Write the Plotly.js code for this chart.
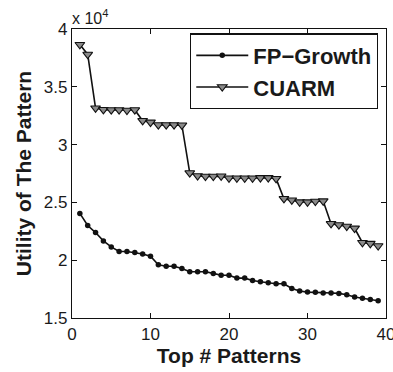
<!DOCTYPE html>
<html>
<head>
<meta charset="utf-8">
<script src="https://cdn.plot.ly/plotly-3.0.1.min.js"></script>
<style>html,body{margin:0;padding:0;background:#fff;}#chart{width:393px;height:372px;}</style>
</head>
<body>
<div id="chart"></div>
<script>
// Top # patterns (x) and utility values (in units of 10^4)
var topPatterns = [];
for (var i = 1; i <= 39; i++) topPatterns.push(i);

var fpGrowth = [2.405, 2.30, 2.239, 2.167, 2.115, 2.075, 2.075, 2.066, 2.054, 2.034,
                1.96, 1.948, 1.948, 1.928, 1.90, 1.90, 1.90, 1.886, 1.87, 1.87,
                1.845, 1.845, 1.825, 1.813, 1.805, 1.796, 1.796, 1.756, 1.733, 1.724,
                1.722, 1.716, 1.716, 1.713, 1.701, 1.681, 1.670, 1.661, 1.649];

var cuarm = [3.865, 3.78, 3.316, 3.302, 3.30, 3.30, 3.296, 3.30, 3.207, 3.193,
             3.17, 3.17, 3.17, 3.168, 2.755, 2.73, 2.725, 2.725, 2.727, 2.71,
             2.71, 2.71, 2.71, 2.713, 2.713, 2.706, 2.532, 2.52, 2.503, 2.503,
             2.509, 2.512, 2.316, 2.305, 2.293, 2.276, 2.152, 2.144, 2.124];

var xTicks = [0, 10, 20, 30, 40];
var yTicks = [1.5, 2, 2.5, 3, 3.5, 4];
var seriesNames = ['FP\u2212Growth', 'CUARM'];

var FONT = 'Liberation Sans, Arial, Helvetica, sans-serif';

var traces = [
  {
    x: topPatterns, y: fpGrowth, name: seriesNames[0], type: 'scatter', mode: 'lines+markers',
    line: {color: '#111', width: 1.6},
    marker: {symbol: 'circle', size: 5.5, color: '#111'}
  },
  {
    x: topPatterns, y: cuarm, name: seriesNames[1], type: 'scatter', mode: 'lines+markers',
    line: {color: '#111', width: 1.6},
    marker: {symbol: 'triangle-down', size: 8.5, color: '#8a8a8a', line: {color: '#111', width: 1.1}}
  }
];

var axisCommon = {
  showgrid: false, zeroline: false, showline: true, mirror: 'ticks',
  linecolor: '#111', linewidth: 1.2, ticks: 'inside', ticklen: 5, tickcolor: '#111', tickwidth: 1,
  ticklabeloverflow: 'allow',
  tickfont: {family: FONT, size: 17, color: '#1a1a1a'}
};

var layout = {
  width: 393, height: 372,
  margin: {l: 72, r: 7, t: 29, b: 54},
  paper_bgcolor: '#fff', plot_bgcolor: '#fff',
  showlegend: true,
  legend: {
    x: 0.376, y: 0.985, xanchor: 'left', yanchor: 'top',
    bgcolor: '#fff', bordercolor: '#111', borderwidth: 1.2,
    font: {family: FONT, size: 22, color: '#1a1a1a', weight: 'bold'},
    itemwidth: 52, tracegroupgap: 0
  },
  xaxis: Object.assign({}, axisCommon, {
    range: [0, 40], tickvals: xTicks, ticktext: xTicks.map(String),
    title: {text: 'Top # Patterns', standoff: 4,
            font: {family: FONT, size: 21, color: '#1a1a1a', weight: 'bold'}}
  }),
  yaxis: Object.assign({}, axisCommon, {
    range: [1.5, 4], tickvals: yTicks, ticktext: yTicks.map(String),
    title: {text: 'Utility of The Pattern', standoff: 6,
            font: {family: FONT, size: 21, color: '#1a1a1a', weight: 'bold'}}
  }),
  annotations: [{
    xref: 'paper', yref: 'paper', x: 0, y: 1, xanchor: 'left', yanchor: 'bottom',
    text: 'x 10<sup>4</sup>', showarrow: false, xshift: -2, yshift: 0,
    font: {family: FONT, size: 16, color: '#1a1a1a'}
  }]
};

Plotly.newPlot('chart', traces, layout, {staticPlot: true, displayModeBar: false});
</script>
</body>
</html>
